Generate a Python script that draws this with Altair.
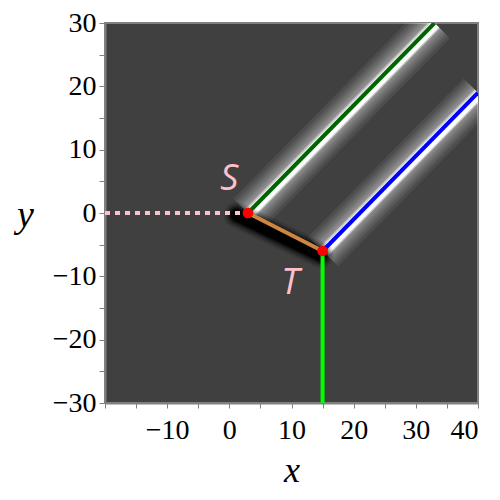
import altair as alt
import pandas as pd

# key points
S = (3, 0)
T = (15, -6)

# line segments (x lists, y lists)
green_x = [3, 33]
green_y = [0, 30]
blue_x = [15, 40]
blue_y = [-6, 19]
lime_x = [15, 15]
lime_y = [-6, -30]
orange_x = [3, 15]
orange_y = [0, -6]
dotted_x = [-20, 3]
dotted_y = [0, 0]
shadow_x = [1.5, 15]
shadow_y = [0.3, -6]

pt_x = [S[0], T[0]]
pt_y = [S[1], T[1]]

lab_text = ["S", "T"]
lab_x = [0, 9.8]
lab_y = [5.3, -11.1]

x_ticks = [-20, -15, -10, -5, 0, 5, 10, 15, 20, 25, 30, 35, 40]
y_ticks = [-30, -25, -20, -15, -10, -5, 0, 5, 10, 15, 20, 25, 30]

xs = alt.Scale(domain=[-20, 40], nice=False, zero=False)
ys = alt.Scale(domain=[-30, 30], nice=False, zero=False)

FONT = "Liberation Serif"

xaxis = alt.Axis(values=x_ticks, title="x", grid=False,
                 labelExpr="datum.value % 10 == 0 && datum.value != -20 ? format(datum.value, 'd') : ''",
                 labelFont=FONT, labelFontSize=28, labelColor="black", labelPadding=8,
                 tickSize=5, tickColor="#808080", domainColor="#808080", domainWidth=2,
                 titleFont=FONT, titleFontSize=36, titleFontStyle="italic", titleFontWeight="normal",
                 titleColor="black", titleY=67, titleBaseline="middle")
yaxis = alt.Axis(values=y_ticks, title="y", grid=False,
                 labelExpr="datum.value % 10 == 0 ? format(datum.value, 'd') : ''",
                 labelFont=FONT, labelFontSize=28, labelColor="black", labelPadding=3,
                 tickSize=6, tickColor="#808080", domainColor="#808080", domainWidth=2,
                 titleFont=FONT, titleFontSize=38, titleFontStyle="italic", titleFontWeight="normal",
                 titleColor="black", titleAngle=0, titleX=-80, titleY=192, titleBaseline="middle",
                 titleAlign="center")


def seg(xv, yv):
    return pd.DataFrame({"x": xv, "y": yv})


def line(df, **kw):
    return alt.Chart(df).mark_line(clip=True, **kw).encode(
        x=alt.X("x:Q", scale=xs, axis=xaxis),
        y=alt.Y("y:Q", scale=ys, axis=yaxis),
    )


layers = []
# white glow along the diagonal rays (soft, built from many faint strokes)
glow_widths = [42, 36, 31, 27, 23, 20, 17, 14, 12]
for xv, yv in [(green_x, green_y), (blue_x, blue_y)]:
    df = seg(xv, yv)
    for w in glow_widths:
        layers.append(line(df, color="white", strokeWidth=w, opacity=0.07, xOffset=0.5, yOffset=0.5))
    layers.append(line(df, color="white", strokeWidth=12, opacity=0.5, xOffset=1, yOffset=1))
    layers.append(line(df, color="white", strokeWidth=9, opacity=0.95, xOffset=1.2, yOffset=1.2))

# dark shadow under S-T
sh = seg(shadow_x, shadow_y)
for w, o in [(26, 0.12), (22, 0.2), (18, 0.3), (15, 0.5)]:
    layers.append(line(sh, color="black", strokeWidth=w, opacity=o, strokeCap="round", xOffset=-2, yOffset=4))
layers.append(line(sh, color="black", strokeWidth=12, opacity=0.95, strokeCap="round", xOffset=-2, yOffset=4))

# coloured lines
layers.append(line(seg(dotted_x, dotted_y), color="#ffc0cb", strokeWidth=4, strokeDash=[5, 5]))
layers.append(line(seg(green_x, green_y), color="#006400", strokeWidth=4))
layers.append(line(seg(blue_x, blue_y), color="#0000ff", strokeWidth=4))
layers.append(line(seg(lime_x, lime_y), color="#00ff00", strokeWidth=4))
layers.append(line(seg(orange_x, orange_y), color="#cd853f", strokeWidth=4))

# points
layers.append(alt.Chart(pd.DataFrame({"x": pt_x, "y": pt_y})).mark_circle(
    color="red", size=115, opacity=1).encode(
    x=alt.X("x:Q", scale=xs, axis=xaxis), y=alt.Y("y:Q", scale=ys, axis=yaxis)))

# labels
layers.append(alt.Chart(pd.DataFrame({"x": lab_x, "y": lab_y, "t": lab_text})).mark_text(
    color="#ffc0cb", font="Open Sans", fontSize=36, fontStyle="italic",
    align="center", baseline="middle").encode(
    x=alt.X("x:Q", scale=xs, axis=xaxis), y=alt.Y("y:Q", scale=ys, axis=yaxis), text="t:N"))

chart = alt.layer(*layers).properties(
    width=373, height=380,
    autosize=alt.AutoSizeParams(type="none"),
    padding={"left": 97, "top": 15, "right": 12, "bottom": 89},
).configure_view(fill="#404040", stroke="#808080", strokeWidth=2)

chart.save("out.html", embed_options={"renderer": "svg", "actions": False})
